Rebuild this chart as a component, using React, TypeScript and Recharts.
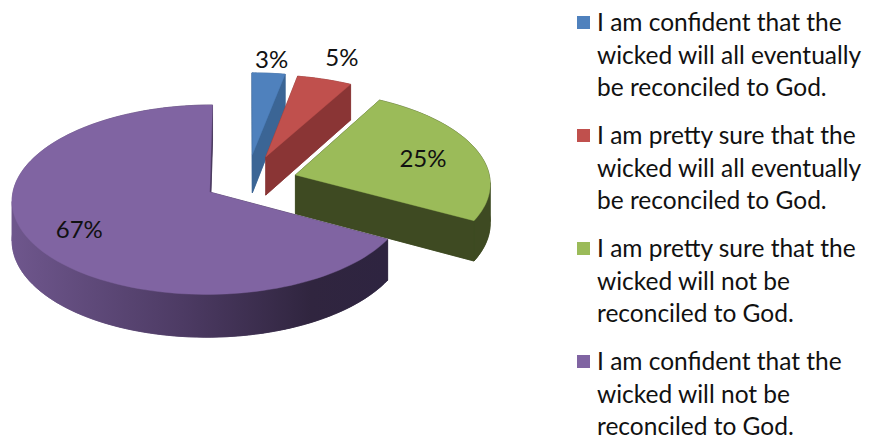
import React from 'react'
import { PieChart, Pie, Cell, Legend } from 'recharts'

const LABELS = [
  'I am confident that the wicked will all eventually be reconciled to God.',
  'I am pretty sure that the wicked will all eventually be reconciled to God.',
  'I am pretty sure that the wicked will not be reconciled to God.',
  'I am confident that the wicked will not be reconciled to God.',
]
const VALUES = [3, 5, 25, 67]
const COLORS = ['#4f81bd', '#c0504d', '#9bbb59', '#8064a2']
const SIDE_COLORS = ['#3b6595', '#8a3535', '#3e4a22', 'url(#purpleSide)']
const EXPLODE = [0.3, 0.29, 0.26, 0.22]
// where each percent label sits, as a fraction of the radius from the slice tip
const LABEL_R = [1.2, 1.32, 0.7, 0.74]

const data = LABELS.map((name, i) => ({ name, value: VALUES[i] }))

// fake 3d look: tilt of the plate, height of the wall, a little perspective
const CX = 247
const CY = 181.6
const RADIUS = 195
const TILT = 0.474
const DEPTH = 39
const PERSP = 0.08
const RAD = Math.PI / 180

function project(cx: number, cy: number, r: number, X: number, Z: number) {
  const p = 1 / (1 + PERSP * Z)
  return { x: cx + r * X * p, y: cy - r * TILT * Z * p, h: DEPTH * p }
}

function sliceIndex(props: any) {
  const name = props.name ?? props.payload?.name
  const i = LABELS.indexOf(name)
  return i >= 0 ? i : props.index ?? 0
}

type P = { x: number; y: number; h: number }
const poly = (pts: { x: number; y: number }[]) =>
  'M' + pts.map(p => `${p.x.toFixed(2)},${p.y.toFixed(2)}`).join('L') + 'Z'
const down = (p: P) => ({ x: p.x, y: p.y + p.h })

function Slice3D(props: any) {
  const { cx, cy, outerRadius, startAngle, endAngle, fill } = props
  const i = sliceIndex(props)
  const e = EXPLODE[i] ?? 0
  const side = SIDE_COLORS[i]
  const mid = ((startAngle + endAngle) / 2) * RAD
  const ox = e * Math.cos(mid)
  const oz = e * Math.sin(mid)
  const at = (a: number, r: number) =>
    project(cx, cy, outerRadius, ox + r * Math.cos(a * RAD), oz + r * Math.sin(a * RAD))

  const steps = Math.max(2, Math.ceil(Math.abs(endAngle - startAngle) / 2))
  const arc: P[] = []
  for (let k = 0; k <= steps; k++) arc.push(at(startAngle + ((endAngle - startAngle) * k) / steps, 1))
  const apex = at(0, 0)

  // split the rim where it turns back in x so each band is a simple polygon
  const runs: P[][] = []
  let run: P[] = [arc[0]]
  let dir = 0
  for (let k = 1; k < arc.length; k++) {
    const d = Math.sign(arc[k].x - arc[k - 1].x)
    if (dir !== 0 && d !== 0 && d !== dir) {
      runs.push(run)
      run = [arc[k - 1]]
    }
    if (d !== 0) dir = d
    run.push(arc[k])
  }
  runs.push(run)

  const sideStyle = { fill: side, stroke: side, strokeWidth: 0.6 }
  return (
    <g>
      <path d={poly([down(apex), ...arc.map(down)])} {...sideStyle} />
      {runs.map((r, k) => (
        <path key={k} d={poly([...r, ...r.slice().reverse().map(down)])} {...sideStyle} />
      ))}
      <path d={poly([apex, arc[0], down(arc[0]), down(apex)])} {...sideStyle} />
      <path d={poly([apex, arc[arc.length - 1], down(arc[arc.length - 1]), down(apex)])} {...sideStyle} />
      <path d={poly([apex, ...arc])} fill={fill} stroke={fill} strokeWidth={0.4} />
    </g>
  )
}

function renderLabel(props: any) {
  const i = sliceIndex(props)
  const pct = props.percent ?? VALUES[i] / VALUES.reduce((s, v) => s + v, 0)
  const m = (props.midAngle ?? 0) * RAD
  const e = EXPLODE[i] ?? 0
  const f = LABEL_R[i] ?? 0.75
  const p = project(CX, CY, RADIUS, (e + f) * Math.cos(m), (e + f) * Math.sin(m))
  return (
    <text
      x={p.x}
      y={p.y}
      textAnchor="middle"
      dominantBaseline="central"
      fontFamily="Lato"
      fontSize={24}
      fill="#111"
    >
      {`${Math.round(pct * 100)}%`}
    </text>
  )
}

function LegendList() {
  return (
    <div style={{ fontFamily: 'Lato', fontSize: 24.5, lineHeight: '32.5px', color: '#111' }}>
      {LABELS.map((label, i) => (
        <div key={label} style={{ display: 'flex', marginBottom: 15.5 }}>
          <span
            style={{ width: 13, height: 13, background: COLORS[i], marginTop: 9.5, marginRight: 7, flexShrink: 0 }}
          />
          <span style={{ width: 280 }}>{label}</span>
        </div>
      ))}
    </div>
  )
}

export default function App() {
  return (
    <div style={{ position: 'absolute', left: 0, top: 0, background: '#fff' }}>
      <PieChart width={870} height={439} margin={{ top: 0, right: 0, bottom: 0, left: 0 }}>
        <defs>
          <linearGradient id="purpleSide" gradientUnits="userSpaceOnUse" x1={15} y1={0} x2={385} y2={0}>
            <stop offset="0%" stopColor="#6e568c" />
            <stop offset="45%" stopColor="#4d3b64" />
            <stop offset="80%" stopColor="#30253f" />
            <stop offset="100%" stopColor="#2e2440" />
          </linearGradient>
        </defs>
        <Pie
          data={data}
          dataKey="value"
          nameKey="name"
          cx={CX}
          cy={CY}
          outerRadius={RADIUS}
          startAngle={90}
          endAngle={-270}
          stroke="none"
          isAnimationActive={false}
          labelLine={false}
          label={renderLabel}
          shape={Slice3D}
          activeShape={Slice3D}
          inactiveShape={Slice3D}
        >
          {data.map((d, i) => (
            <Cell key={d.name} fill={COLORS[i]} />
          ))}
        </Pie>
        <Legend
          layout="vertical"
          align="right"
          verticalAlign="top"
          content={() => <LegendList />}
          wrapperStyle={{ left: 577, top: 6, width: 293 }}
        />
      </PieChart>
    </div>
  )
}
